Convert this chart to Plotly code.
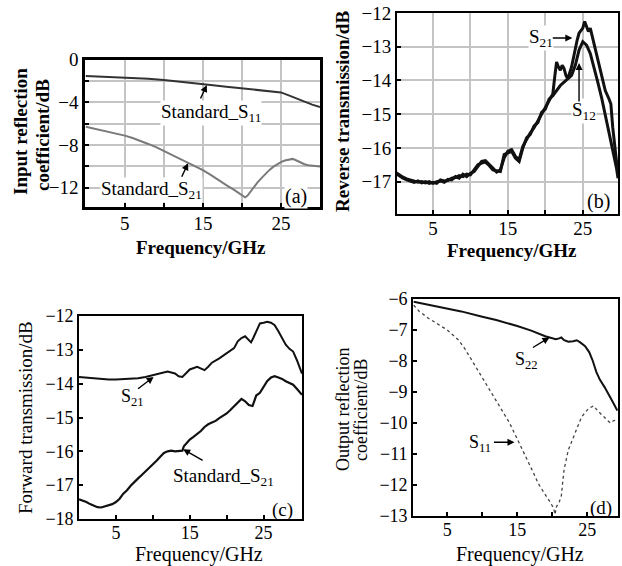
import plotly.graph_objects as go

# ---------------- data ----------------
# (a) input reflection
fa_s11 = [0, 2, 4, 6, 8, 10, 12, 14, 16, 18, 20, 22, 24, 25, 26, 27, 28, 29, 30]
a_std_s11 = [-1.55, -1.6, -1.65, -1.72, -1.8, -1.92, -2.05, -2.2, -2.38, -2.55, -2.7,
             -2.85, -3.0, -3.08, -3.35, -3.65, -3.95, -4.22, -4.45]
fa_s21 = [0, 1, 2, 3, 4, 5, 6, 7, 8, 9, 10, 11, 12, 13, 14, 15, 16, 17, 18, 19, 19.5,
          20, 20.4, 20.7, 21, 21.3, 21.6, 22, 22.5, 23, 23.5, 24, 24.5, 25, 25.5, 26,
          26.5, 27, 27.5, 28, 28.5, 29, 30]
a_std_s21 = [-6.3, -6.45, -6.6, -6.78, -6.95, -7.12, -7.35, -7.6, -7.9, -8.2, -8.55,
             -8.9, -9.25, -9.6, -9.95, -10.35, -10.8, -11.3, -11.75, -12.2, -12.45,
             -12.7, -12.9, -12.75, -12.45, -12.2, -11.8, -11.5, -11.1, -10.7, -10.35,
             -10.05, -9.8, -9.6, -9.45, -9.35, -9.3, -9.45, -9.65, -9.8, -9.9, -9.95, -10.0]

# (b) reverse transmission
fb_s21 = [0, 0.5, 1, 1.5, 2, 2.5, 3, 3.5, 4, 4.5, 5, 5.5, 6, 6.5, 7, 7.5, 8, 8.5, 9,
          9.5, 10, 10.5, 11, 11.5, 12, 12.5, 13, 13.5, 14, 14.5, 15, 15.5, 16, 16.5,
          17, 17.5, 18, 18.5, 19, 19.5, 20, 20.5, 21, 21.25, 21.5, 21.75, 22, 22.25,
          22.5, 22.75, 23, 23.5, 24, 24.25, 24.5, 25, 25.25, 25.5, 25.75, 26, 26.5,
          27, 27.5, 28, 28.5, 28.75, 29, 29.5, 29.7]
b_s21 = [-16.72, -16.8, -16.87, -16.92, -16.95, -16.98, -17.02, -17.0, -17.04, -17.0,
         -17.05, -17.0, -16.98, -17.02, -16.93, -16.95, -16.85, -16.9, -16.78, -16.85,
         -16.75, -16.7, -16.55, -16.4, -16.38, -16.48, -16.6, -16.72, -16.65, -16.3,
         -16.1, -16.05, -16.25, -16.35, -15.95, -15.75, -15.55, -15.4, -15.2, -15.0,
         -14.8, -14.6, -14.4, -13.9, -13.45, -13.6, -13.7, -13.55, -13.65, -13.85,
         -13.95, -13.6, -13.0, -12.8, -12.6, -12.45, -12.25, -12.4, -12.55, -12.45,
         -12.9, -13.4, -13.85, -14.3, -14.55, -14.7, -15.4, -16.3, -16.8]
fb_s12 = [0, 0.5, 1, 1.5, 2, 2.5, 3, 3.5, 4, 4.5, 5, 5.5, 6, 6.5, 7, 7.5, 8, 8.5, 9,
          9.5, 10, 10.5, 11, 11.5, 12, 12.5, 13, 13.5, 14, 14.5, 15, 15.5, 16, 16.5,
          17, 17.5, 18, 18.5, 19, 19.5, 20, 20.5, 21, 21.5, 22, 22.5, 23, 23.5, 24,
          24.5, 25, 25.5, 26, 26.5, 27, 27.5, 28, 28.5, 29, 29.5, 29.7]
b_s12 = [-16.75, -16.83, -16.9, -16.95, -16.98, -17.02, -16.98, -17.04, -17.0, -17.05,
         -17.02, -17.05, -16.95, -16.98, -16.97, -16.9, -16.88, -16.82, -16.85, -16.78,
         -16.8, -16.65, -16.5, -16.45, -16.42, -16.52, -16.65, -16.68, -16.7, -16.2,
         -16.15, -16.1, -16.3, -16.4, -16.0, -15.7, -15.6, -15.35, -15.25, -14.95,
         -14.85, -14.55, -14.45, -14.3, -14.15, -14.05, -13.95, -13.85, -13.55, -13.1,
         -12.85, -12.95, -13.2, -13.6, -14.05, -14.5, -15.0, -15.5, -16.0, -16.6, -16.9]

# (c) forward transmission
fc_s21 = [0, 1, 2, 3, 4, 5, 6, 7, 8, 9, 10, 11, 12, 13, 13.5, 14, 14.5, 15, 16, 16.5,
          17, 17.5, 18, 19, 20, 20.5, 21, 21.5, 22, 22.5, 23, 23.3, 23.6, 24, 24.5,
          25, 25.5, 26, 26.5, 27, 27.5, 28, 28.5, 29, 29.5, 30.2]
c_s21 = [-13.8, -13.82, -13.85, -13.87, -13.88, -13.88, -13.87, -13.86, -13.84, -13.8,
         -13.75, -13.68, -13.64, -13.7, -13.78, -13.8, -13.7, -13.58, -13.5, -13.55,
         -13.6, -13.5, -13.38, -13.25, -13.1, -13.02, -12.95, -12.75, -12.65, -12.6,
         -12.7, -12.78, -12.65, -12.45, -12.22, -12.2, -12.17, -12.2, -12.27, -12.45,
         -12.65, -12.85, -12.97, -13.05, -13.3, -13.7]
fc_std = [0, 0.5, 1, 1.5, 2, 2.5, 3, 3.5, 4, 4.5, 5, 5.5, 6, 6.5, 7, 7.5, 8, 8.5, 9,
          9.5, 10, 10.5, 11, 11.5, 12, 12.5, 13, 13.5, 14, 14.2, 14.5, 15, 15.5, 16,
          16.5, 17, 17.5, 18, 18.5, 19, 19.5, 20, 20.5, 21, 21.5, 22, 22.5, 23, 23.5,
          24, 24.5, 25, 25.5, 26, 26.5, 27, 27.5, 28, 28.5, 29, 29.5, 30.2]
c_std_s21 = [-17.42, -17.45, -17.5, -17.56, -17.6, -17.65, -17.66, -17.63, -17.58,
             -17.56, -17.5, -17.4, -17.25, -17.15, -17.02, -16.9, -16.8, -16.7, -16.6,
             -16.5, -16.4, -16.28, -16.16, -16.05, -16.0, -15.98, -16.0, -16.0, -15.98,
             -15.85, -15.78, -15.65, -15.57, -15.48, -15.4, -15.28, -15.2, -15.15, -15.1,
             -15.02, -14.95, -14.88, -14.78, -14.66, -14.55, -14.45, -14.52, -14.63,
             -14.66, -14.35, -14.27, -14.1, -13.92, -13.82, -13.78, -13.82, -13.86,
             -13.93, -13.98, -14.03, -14.15, -14.33]

# (d) output reflection
fd_s22 = [0.2, 2, 4, 5, 7, 10, 12, 15, 17, 19, 20, 20.5, 21, 21.3, 21.7, 22.3, 23, 23.5,
          24, 24.7, 25.3, 25.8, 26.3, 26.8, 27.5, 28, 28.6, 29.3]
d_s22 = [-6.09, -6.17, -6.25, -6.3, -6.4, -6.57, -6.68, -6.87, -7.02, -7.2, -7.28, -7.3,
         -7.27, -7.24, -7.33, -7.38, -7.36, -7.33, -7.4, -7.52, -7.72, -8.0, -8.35, -8.6,
         -8.85, -9.04, -9.3, -9.6]
fd_s11 = [0.2, 1, 2.3, 3.5, 5, 6, 6.6, 7.5, 8.5, 9.5, 10.4, 11.3, 12.3, 13, 13.8, 14.5,
          15.2, 16, 16.6, 17.3, 18, 18.6, 19.2, 19.7, 20.2, 20.4, 20.6, 21.0, 21.3, 21.5,
          21.7, 22.3, 23.3, 24.2, 25.2, 25.9, 26.6, 27.6, 28.3, 28.8, 29.4]
d_s11 = [-6.2, -6.4, -6.62, -6.8, -7.0, -7.2, -7.32, -7.6, -7.97, -8.33, -8.67, -9.0,
         -9.36, -9.65, -9.96, -10.28, -10.6, -10.97, -11.25, -11.6, -11.95, -12.18,
         -12.38, -12.55, -12.75, -12.95, -12.7, -12.55, -12.35, -11.9, -11.5, -10.87,
         -10.33, -9.8, -9.53, -9.45, -9.63, -9.85, -10.0, -9.92, -9.9]

# tick labels
x_ticks = [5, 10, 15, 20, 25]
x_ticktext = ["5", "", "15", "", "25"]
ya_ticks = [0, -2, -4, -6, -8, -10, -12]
ya_ticktext = ["0", "", "\u22124", "", "\u22128", "", "\u221212"]
yb_ticks = [-12, -13, -14, -15, -16, -17, -18]
yc_ticks = [-12, -13, -14, -15, -16, -17, -18]
yd_ticks = [-6, -7, -8, -9, -10, -11, -12, -13]

# ---------------- figure ----------------
W, H = 622, 566
FONT = "Liberation Serif"


def px(x):
    return x / W


def py(y):
    return 1 - y / H


fig = go.Figure()
fig.add_trace(go.Scatter(x=fa_s11, y=a_std_s11, mode="lines", line=dict(color="#333333", width=2),
                         xaxis="x", yaxis="y", showlegend=False))
fig.add_trace(go.Scatter(x=fa_s21, y=a_std_s21, mode="lines", line=dict(color="#7a7a7a", width=2),
                         xaxis="x", yaxis="y", showlegend=False))
fig.add_trace(go.Scatter(x=fb_s12, y=b_s12, mode="lines", line=dict(color="#111111", width=3),
                         xaxis="x2", yaxis="y2", showlegend=False))
fig.add_trace(go.Scatter(x=fb_s21, y=b_s21, mode="lines", line=dict(color="#111111", width=3),
                         xaxis="x2", yaxis="y2", showlegend=False))
fig.add_trace(go.Scatter(x=fc_s21, y=c_s21, mode="lines", line=dict(color="#111111", width=2),
                         xaxis="x3", yaxis="y3", showlegend=False))
fig.add_trace(go.Scatter(x=fc_std, y=c_std_s21, mode="lines", line=dict(color="#111111", width=2.2),
                         xaxis="x3", yaxis="y3", showlegend=False))
fig.add_trace(go.Scatter(x=fd_s22, y=d_s22, mode="lines", line=dict(color="#111111", width=2),
                         xaxis="x4", yaxis="y4", showlegend=False))
fig.add_trace(go.Scatter(x=fd_s11, y=d_s11, mode="lines", line=dict(color="#444444", width=1.3, dash="dot"),
                         xaxis="x4", yaxis="y4", showlegend=False))


def ax_style(domain, rng, tickvals, ticktext, size, grid, anchor, lw, standoff=0):
    d = dict(domain=domain, range=rng, tickvals=tickvals, showline=True, mirror=True,
             linecolor="black", linewidth=lw, ticks="inside", ticklen=4, tickcolor="black",
             tickwidth=1.5, zeroline=False, showgrid=grid, gridcolor="#c4c4c4", gridwidth=1.5,
             tickfont=dict(family=FONT, size=size, color="black"), anchor=anchor,
             fixedrange=True, automargin=False, ticklabelstandoff=standoff)
    if ticktext is not None:
        d["ticktext"] = ticktext
    return d


fig.update_layout(
    template="none",
    width=W, height=H, margin=dict(l=0, r=0, t=0, b=0, pad=0), autosize=False,
    paper_bgcolor="white", plot_bgcolor="white",
    xaxis=ax_style([px(85), px(320)], [-0.1, 30], x_ticks, x_ticktext, 19, True, "y", 2.5, -3),
    yaxis=ax_style([py(207), py(59.5)], [-13.8, 0], ya_ticks, ya_ticktext, 19, True, "x", 2.5),
    xaxis2=ax_style([px(397), px(618)], [0.2, 29.7], x_ticks, x_ticktext, 19, True, "y2", 2, -4),
    yaxis2=ax_style([py(214), py(13)], [-17.96, -12], yb_ticks,
                    [str(v).replace("-", "\u2212") for v in yb_ticks], 19, True, "x2", 2),
    xaxis3=ax_style([px(79), px(302)], [0, 30.2], x_ticks, x_ticktext, 18, False, "y3", 1.6, -3),
    yaxis3=ax_style([py(519), py(316)], [-18, -12], yc_ticks,
                    [str(v).replace("-", "\u2212") for v in yc_ticks], 18, False, "x3", 1.6),
    xaxis4=ax_style([px(413), px(618)], [0.1, 29.4], x_ticks, x_ticktext, 18, False, "y4", 1.6, -3),
    yaxis4=ax_style([py(516), py(299)], [-13, -6], yd_ticks,
                    [str(v).replace("-", "\u2212") for v in yd_ticks], 18, False, "x4", 1.6),
)

ann = []


def arrow(xr, yr, x, y, ax, ay):
    ann.append(dict(xref=xr, yref=yr, x=x, y=y, ax=ax, ay=ay, text="", showarrow=True,
                    arrowhead=2, arrowsize=1, arrowwidth=1.4, arrowcolor="black", standoff=0))


def label(xr, yr, x, y, text, size=19, bg=None, xanchor="left"):
    d = dict(xref=xr, yref=yr, x=x, y=y, text=text, showarrow=False, xanchor=xanchor,
             yanchor="middle", font=dict(family=FONT, size=size, color="black"), borderpad=0)
    if bg:
        d["bgcolor"] = bg
    ann.append(d)


# (a)
label("x", "y", 9.5, -5.0, "Standard_S<sub>11</sub>", 19, "white")
arrow("x", "y", 15.5, -2.39, -7, 15)
label("x", "y", 1.8, -12.2, "Standard_S<sub>21</sub>", 19, "white")
arrow("x", "y", 13.1, -9.7, -7, 15)
label("x", "y", 26.9, -12.86, "(a)", 20, "white", "center")
# (b)
label("x2", "y2", 17.7, -12.74, "S<sub>21</sub>", 19, "white")
arrow("x2", "y2", 23.6, -12.74, -21, 0)
label("x2", "y2", 23.4, -14.92, "S<sub>12</sub>", 19, "white")
arrow("x2", "y2", 24.5, -13.48, 0, 40)
label("x2", "y2", 27.1, -17.59, "(b)", 20, "white", "center")
# (c)
label("x3", "y3", 5.6, -14.41, "S<sub>21</sub>", 18)
arrow("x3", "y3", 10.1, -13.8, -17, 13)
label("x3", "y3", 12.6, -16.75, "Standard_S<sub>21</sub>", 19)
arrow("x3", "y3", 14.1, -15.94, 21, 12)
label("x3", "y3", 27.6, -17.74, "(c)", 19, None, "center")
# (d)
label("x4", "y4", 14.6, -7.97, "S<sub>22</sub>", 18)
arrow("x4", "y4", 19.6, -7.24, -18, 11)
label("x4", "y4", 8.0, -10.65, "S<sub>11</sub>", 18)
arrow("x4", "y4", 14.6, -10.62, -22, 0)
label("x4", "y4", 26.9, -12.74, "(d)", 19, None, "center")


def title(x, y, text, size, angle=0):
    ann.append(dict(xref="paper", yref="paper", x=px(x), y=py(y), text=text, showarrow=False,
                    xanchor="center", yanchor="middle", textangle=angle,
                    font=dict(family=FONT, size=size, color="black")))


title(20, 132, "<b>Input reflection</b>", 19, -90)
title(42, 135, "<b>coefficient/dB</b>", 19, -90)
title(201, 247, "<b>Frequency/GHz</b>", 19)
title(343, 112, "<b>Reverse transmission/dB</b>", 19, -90)
title(512, 250, "<b>Frequency/GHz</b>", 19)
title(25, 418, "Forward transmission/dB", 19, -90)
title(199, 554, "Frequency/GHz", 20)
title(343, 410, "Output reflection", 18, -90)
title(361, 410, "coefficient/dB", 18, -90)
title(520, 554, "Frequency/GHz", 20)

fig.update_layout(annotations=ann)
fig.write_html("out.html", config={"displayModeBar": False},
               post_script="document.body.style.margin='0';document.body.style.overflow='hidden';")
